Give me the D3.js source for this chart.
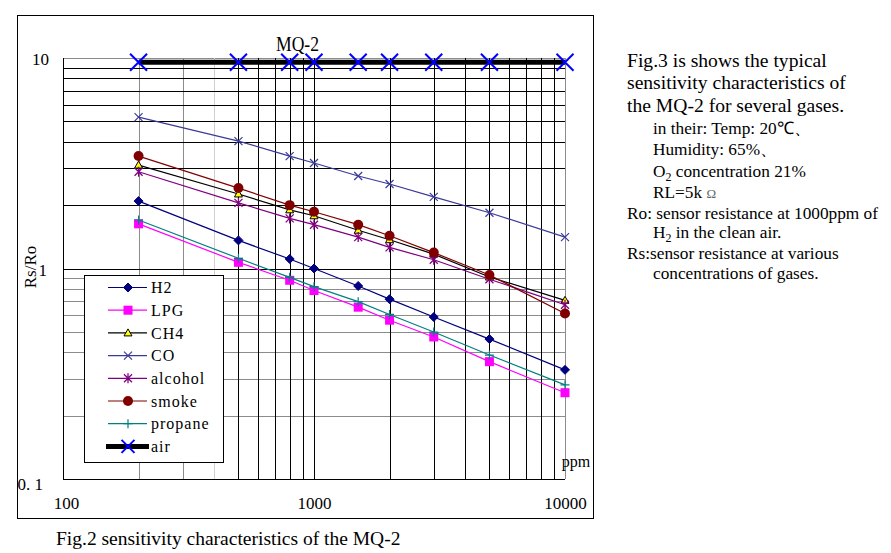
<!DOCTYPE html>
<html>
<head>
<meta charset="UTF-8">
<title>MQ-2 sensitivity</title>
<script src="https://cdn.jsdelivr.net/npm/d3@7"></script>
<style>
  body { margin: 0; background: #fff; }
  svg text { font-family: "Liberation Serif", "Times New Roman", serif; fill: #000; }
  .legend text { font-size: 16px; letter-spacing: 1px; }
  .note { font-size: 17.3px; }
  .note.big { font-size: 19.6px; }
</style>
</head>
<body>
<svg id="chart" width="891" height="553"></svg>
<script>
// concentrations (ppm) where the curves are sampled
const ppm = [200, 500, 800, 1000, 1500, 2000, 3000, 5000, 10000];

// Rs/Ro
const h2      = [2.09, 1.36, 1.11, 1.00, 0.826, 0.715, 0.588, 0.462, 0.330];
const lpg     = [1.63, 1.07, 0.879, 0.786, 0.655, 0.568, 0.473, 0.361, 0.257];
const ch4     = [3.10, 2.26, 1.90, 1.78, 1.52, 1.37, 1.17, 0.911, 0.706];
const co      = [5.24, 4.03, 3.42, 3.17, 2.75, 2.52, 2.19, 1.84, 1.41];
const alcohol = [2.88, 2.05, 1.73, 1.615, 1.41, 1.26, 1.10, 0.889, 0.673];
const smoke   = [3.42, 2.41, 2.00, 1.86, 1.615, 1.43, 1.19, 0.931, 0.611];
const propane = [1.70, 1.118, 0.908, 0.820, 0.696, 0.605, 0.499, 0.388, 0.280];
const air     = [9.55, 9.55, 9.55, 9.55, 9.55, 9.55, 9.55, 9.55, 9.55];

const seriesNames = ["H2", "LPG", "CH4", "CO", "alcohol", "smoke", "propane", "air"];

const xTicks = [100, 1000, 10000];
const yTicks = [0.1, 1, 10];
const yTickLabels = ["0. 1", "1", "10"];

const svg = d3.select("#chart");

// outer frame
svg.append("rect")
    .attr("x", 17.5).attr("y", 15.5).attr("width", 576).attr("height", 503)
    .attr("fill", "none").attr("stroke", "#000").attr("stroke-width", 1);

const x = d3.scaleLog().domain([100, 10000]).range([63, 565]);
const y = d3.scaleLog().domain([0.1, 10]).range([479, 58]);

const px = v => Math.round(x(v)) + 0.5;
const py = v => Math.round(y(v)) + 0.5;

const grid = svg.append("g").attr("class", "grid");

function hLines(vals, color) {
    grid.selectAll(null).data(vals).join("line")
        .attr("x1", x(100)).attr("x2", x(10000))
        .attr("y1", d => py(d)).attr("y2", d => py(d))
        .attr("stroke", color).attr("stroke-width", 1);
}
function vLines(vals, color) {
    grid.selectAll(null).data(vals).join("line")
        .attr("x1", d => px(d)).attr("x2", d => px(d))
        .attr("y1", y(10)).attr("y2", y(0.1))
        .attr("stroke", color).attr("stroke-width", 1);
}

hLines([0.2, 0.3, 0.4, 0.5, 0.6, 0.7, 0.8, 0.9, 10], "#8c8c8c");
vLines([400], "#d0d0d0");
vLines([200, 300, 10000], "#8c8c8c");
vLines([100, 500, 600, 700, 800, 900, 1000, 2000, 3000, 4000, 5000, 6000, 7000, 8000, 9000], "#000");
hLines([0.1, 1, 2, 3, 4, 5, 6, 7, 8, 9], "#000");

// marker shapes
function marker(g, kind, color, size) {
    const s = size, h = size / 2;
    if (kind === "diamond") {
        g.append("path").attr("d", `M0,${-h}L${h},0L0,${h}L${-h},0Z`)
            .attr("fill", color).attr("stroke", color);
    } else if (kind === "square") {
        g.append("rect").attr("x", -h).attr("y", -h).attr("width", s).attr("height", s)
            .attr("fill", color);
    } else if (kind === "triangle") {
        g.append("path").attr("d", `M0,${-h}L${h},${h - 1}L${-h},${h - 1}Z`)
            .attr("fill", "#ffff00").attr("stroke", "#000").attr("stroke-width", 1);
    } else if (kind === "circle") {
        g.append("circle").attr("r", h).attr("fill", color);
    } else if (kind === "x" || kind === "bigx") {
        g.append("path").attr("d", `M${-h},${-h}L${h},${h}M${-h},${h}L${h},${-h}`)
            .attr("stroke", color).attr("stroke-width", kind === "bigx" ? 2 : 1.2).attr("fill", "none");
    } else if (kind === "star") {
        g.append("path").attr("d", `M${-h},${-h}L${h},${h}M${-h},${h}L${h},${-h}M0,${-h - 1}L0,${h + 1}`)
            .attr("stroke", color).attr("stroke-width", 1.3).attr("fill", "none");
    } else if (kind === "plus") {
        g.append("path").attr("d", `M${-h},0L${h},0M0,${-h}L0,${h}`)
            .attr("stroke", color).attr("stroke-width", 1.2).attr("fill", "none");
    }
}

const series = [
    { name: seriesNames[0], values: h2,      color: "#000080", line: "#000080", mark: "diamond",  size: 9,  width: 1.2 },
    { name: seriesNames[1], values: lpg,     color: "#ff00ff", line: "#ff00ff", mark: "square",   size: 9,  width: 1.2 },
    { name: seriesNames[2], values: ch4,     color: "#000",    line: "#000",    mark: "triangle", size: 8,  width: 1.2 },
    { name: seriesNames[3], values: co,      color: "#3a3a9a", line: "#3a3a9a", mark: "x",        size: 8,  width: 1.2 },
    { name: seriesNames[4], values: alcohol, color: "#800080", line: "#800080", mark: "star",     size: 8,  width: 1.2 },
    { name: seriesNames[5], values: smoke,   color: "#800000", line: "#800000", mark: "circle",   size: 10, width: 1.2 },
    { name: seriesNames[6], values: propane, color: "#008080", line: "#008080", mark: "plus",     size: 9,  width: 1.2 },
    { name: seriesNames[7], values: air,     color: "#0000ff", line: "#000",    mark: "bigx",     size: 17, width: 5 }
];

const line = d3.line().x(d => x(d[0])).y(d => y(d[1]));

series.forEach(s => {
    const pts = ppm.map((p, i) => [p, s.values[i]]);
    const g = svg.append("g");
    g.append("path").datum(pts).attr("d", line)
        .attr("fill", "none").attr("stroke", s.line).attr("stroke-width", s.width);
    pts.forEach(p => {
        const m = g.append("g").attr("transform", `translate(${x(p[0])},${y(p[1])})`);
        marker(m, s.mark, s.color, s.size);
    });
});

// axes labels
const yAxis = d3.axisLeft(y).tickValues(yTicks).tickSize(0)
    .tickFormat((d, i) => yTickLabels[i]);
const ya = svg.append("g").attr("transform", "translate(49,0)").call(yAxis);
ya.select(".domain").remove();
ya.selectAll("text").attr("x", 0).attr("dy", "0.4em")
    .style("font-family", "'Liberation Serif', serif").style("font-size", "17px").attr("fill", "#000");
ya.selectAll(".tick").filter(d => d === 0.1).select("text").attr("x", -6).attr("dy", "0.6em");
ya.selectAll(".tick").filter(d => d === 1).select("text").attr("x", -2);

const xAxis = d3.axisBottom(x).tickValues(xTicks).tickSize(0).tickFormat(d3.format("d"));
const xa = svg.append("g").attr("transform", `translate(0,${y(0.1)})`).call(xAxis);
xa.select(".domain").remove();
xa.selectAll("text").attr("y", 30).attr("dy", 0)
    .style("font-family", "'Liberation Serif', serif").style("font-size", "17px").attr("fill", "#000");
xa.selectAll(".tick").filter(d => d === 100).select("text").attr("x", 3);

svg.append("text").attr("x", 576).attr("y", 467).attr("text-anchor", "middle")
    .style("font-size", "16px").text("ppm");

svg.append("text").attr("transform", "translate(36,267) rotate(-90)")
    .attr("text-anchor", "middle").style("font-size", "17px").attr("fill", "#333").text("Rs/Ro");

svg.append("text").attr("x", 276).attr("y", 51)
    .attr("textLength", 43).attr("lengthAdjust", "spacingAndGlyphs")
    .style("font-size", "21px").text("MQ-2");

// legend
const lg = svg.append("g").attr("class", "legend");
lg.append("rect").attr("x", 84.5).attr("y", 275.5).attr("width", 139).attr("height", 187)
    .attr("fill", "#fff").attr("stroke", "#000");
series.forEach((s, i) => {
    const cy = 287.5 + i * 22.7;
    lg.append("line").attr("x1", s.mark === "bigx" ? 106 : 108).attr("x2", s.mark === "bigx" ? 149 : 147)
        .attr("y1", cy).attr("y2", cy).attr("stroke", s.line).attr("stroke-width", s.width);
    const m = lg.append("g").attr("transform", `translate(128,${cy})`);
    marker(m, s.mark, s.color, s.mark === "bigx" ? 13 : s.size);
    lg.append("text").attr("x", 151).attr("y", cy).attr("dy", "0.35em").text(s.name);
});

// caption
svg.append("text").attr("x", 56).attr("y", 545).style("font-size", "19.5px")
    .text("Fig.2 sensitivity characteristics of the MQ-2");

// notes on the right
const notes = svg.append("g");
const big = ["Fig.3 is shows the typical", "sensitivity characteristics of", "the MQ-2 for several gases."];
big.forEach((t, i) => {
    notes.append("text").attr("class", "note big").attr("x", 627).attr("y", 67 + i * 22.3).text(t);
});
function noteLine(xp, yp, parts) {
    const t = notes.append("text").attr("class", "note").attr("x", xp).attr("y", yp);
    parts.forEach(p => {
        const ts = t.append("tspan").text(p.t);
        if (p.sub) ts.attr("font-size", "12px").attr("dy", 4);
        if (p.up) ts.attr("dy", -4);
        if (p.small) ts.attr("font-size", "13px").attr("fill", "#666");
    });
}
noteLine(653, 134, [{ t: "in their: Temp: 20℃、" }]);
noteLine(653, 155, [{ t: "Humidity: 65%、" }]);
noteLine(653, 177, [{ t: "O" }, { t: "2", sub: true }, { t: " concentration 21%", up: true }]);
noteLine(653, 198, [{ t: "RL=5k " }, { t: "Ω", small: true }]);
noteLine(627, 219, [{ t: "Ro: sensor resistance at 1000ppm of" }]);
noteLine(653, 238, [{ t: "H" }, { t: "2", sub: true }, { t: " in the clean air.", up: true }]);
noteLine(627, 259, [{ t: "Rs:sensor resistance at various" }]);
noteLine(653, 279, [{ t: "concentrations of gases." }]);
</script>
</body>
</html>
